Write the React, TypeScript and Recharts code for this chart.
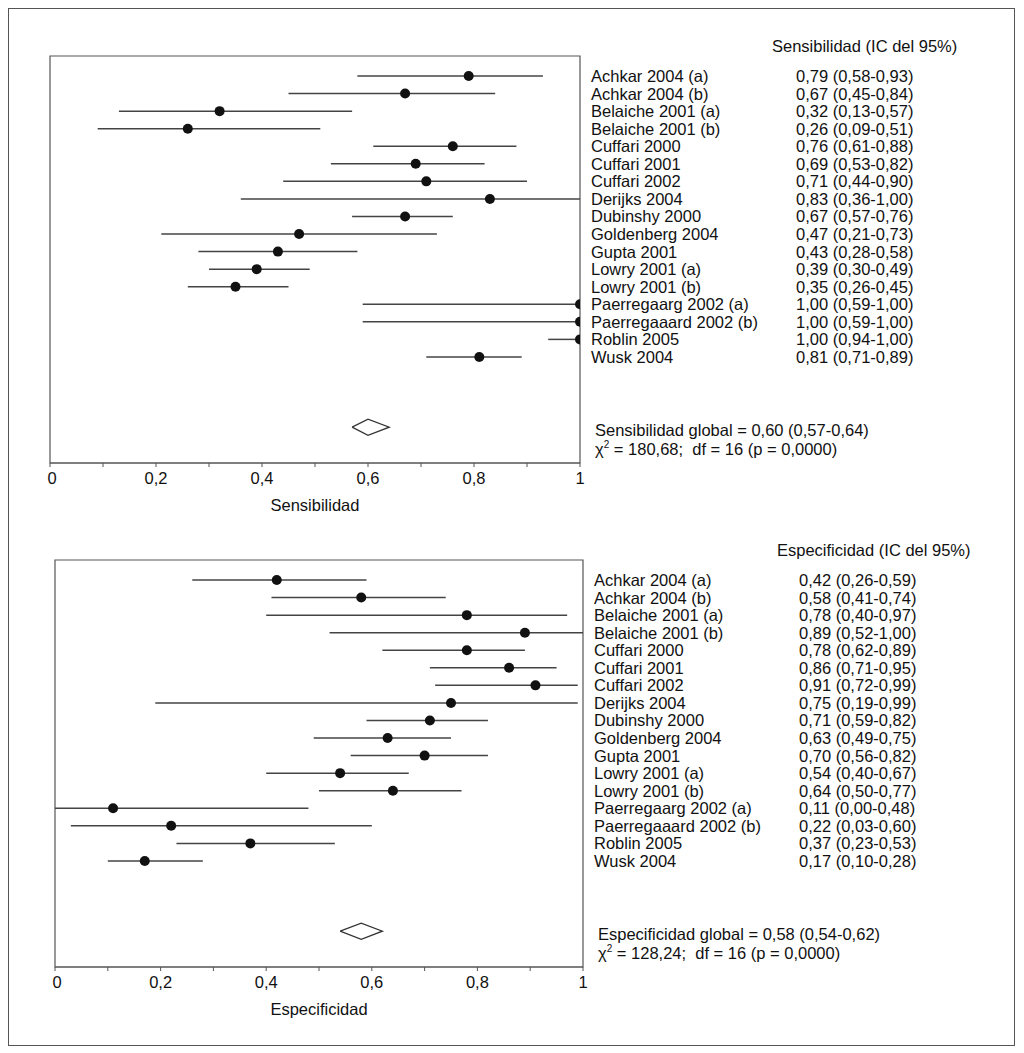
import React from 'react';
import { ScatterChart, Scatter, XAxis, YAxis, ErrorBar, ReferenceArea } from 'recharts';

const STUDIES = [
  'Achkar 2004 (a)',
  'Achkar 2004 (b)',
  'Belaiche 2001 (a)',
  'Belaiche 2001 (b)',
  'Cuffari 2000',
  'Cuffari 2001',
  'Cuffari 2002',
  'Derijks 2004',
  'Dubinshy 2000',
  'Goldenberg 2004',
  'Gupta 2001',
  'Lowry 2001 (a)',
  'Lowry 2001 (b)',
  'Paerregaarg 2002 (a)',
  'Paerregaaard 2002 (b)',
  'Roblin 2005',
  'Wusk 2004',
];

const SENS_EST = [0.79, 0.67, 0.32, 0.26, 0.76, 0.69, 0.71, 0.83, 0.67, 0.47, 0.43, 0.39, 0.35, 1.0, 1.0, 1.0, 0.81];
const SENS_LO = [0.58, 0.45, 0.13, 0.09, 0.61, 0.53, 0.44, 0.36, 0.57, 0.21, 0.28, 0.30, 0.26, 0.59, 0.59, 0.94, 0.71];
const SENS_HI = [0.93, 0.84, 0.57, 0.51, 0.88, 0.82, 0.90, 1.0, 0.76, 0.73, 0.58, 0.49, 0.45, 1.0, 1.0, 1.0, 0.89];

const SPEC_EST = [0.42, 0.58, 0.78, 0.89, 0.78, 0.86, 0.91, 0.75, 0.71, 0.63, 0.70, 0.54, 0.64, 0.11, 0.22, 0.37, 0.17];
const SPEC_LO = [0.26, 0.41, 0.40, 0.52, 0.62, 0.71, 0.72, 0.19, 0.59, 0.49, 0.56, 0.40, 0.50, 0.0, 0.03, 0.23, 0.10];
const SPEC_HI = [0.59, 0.74, 0.97, 1.0, 0.89, 0.95, 0.99, 0.99, 0.82, 0.75, 0.82, 0.67, 0.77, 0.48, 0.60, 0.53, 0.28];

// pooled estimate, lower, upper
const SENS_POOLED = [0.60, 0.57, 0.64];
const SPEC_POOLED = [0.58, 0.54, 0.62];
const SENS_CHI = 180.68;
const SPEC_CHI = 128.24;
const DF = 16;
const P_TEXT = '0,0000';

const X_TICKS = [0, 0.1, 0.2, 0.3, 0.4, 0.5, 0.6, 0.7, 0.8, 0.9, 1];

const POOLED_ROW = 20;
const Y_DOMAIN = [-1.14, 22.04];
const DIAMOND_HALF = 0.46;

const FONT = '"Liberation Sans", Arial, Helvetica, sans-serif';
const INK = '#111';
const FS = 16.5;

const fmt = (v: number) => v.toFixed(2).replace('.', ',');
const fmtTick = (v: number) => String(v).replace('.', ',');

function AxisTick(props: any) {
  const { x, y, payload } = props;
  const v = payload.value;
  if (Math.round(v * 10) % 2 !== 0) return <g />;
  return (
    <text x={x + (v === 0 ? 2 : 0)} y={y} dy="0.71em" textAnchor="middle" fontFamily={FONT} fontSize={FS} fill={INK}>
      {fmtTick(v)}
    </text>
  );
}

function StudyTick(props: any) {
  const { x, y, payload, rows, summaryTitle, chi } = props;
  const v = payload.value;
  if (v === POOLED_ROW) {
    return (
      <g fontFamily={FONT} fontSize={FS} fill={INK}>
        <text x={x + 15} y={y + 3} dominantBaseline="central">{summaryTitle}</text>
        <text x={x + 15} y={y + 22} dominantBaseline="central" style={{ whiteSpace: 'pre' }}>
          χ<tspan dy={-5} fontSize={10}>2</tspan>
          <tspan dy={5}>{` = ${chi};  df = ${DF} (p = ${P_TEXT})`}</tspan>
        </text>
      </g>
    );
  }
  const r = rows[v];
  if (!r) return <g />;
  return (
    <g fontFamily={FONT} fontSize={FS} fill={INK}>
      <text x={x + 11} y={y} dominantBaseline="central">{r.name}</text>
      <text x={x + 216} y={y} dominantBaseline="central">{r.label}</text>
    </g>
  );
}

function ForestPlot(props: any) {
  const { est, lo, hi, pooled, chi, axisTitle, summaryWord, top, height, margin } = props;

  const rows = STUDIES.map((name, i) => ({
    name,
    x: est[i],
    y: i,
    err: [est[i] - lo[i], hi[i] - est[i]],
    label: `${fmt(est[i])} (${fmt(lo[i])}-${fmt(hi[i])})`,
  }));

  const diamond = [
    { x: pooled[1], y: POOLED_ROW },
    { x: pooled[0], y: POOLED_ROW - DIAMOND_HALF },
    { x: pooled[2], y: POOLED_ROW },
    { x: pooled[0], y: POOLED_ROW + DIAMOND_HALF },
    { x: pooled[1], y: POOLED_ROW },
  ];

  const summaryTitle = `${summaryWord} global = ${fmt(pooled[0])} (${fmt(pooled[1])}-${fmt(pooled[2])})`;
  const rowTicks = [...rows.map((r) => r.y), POOLED_ROW];

  return (
    <div style={{ position: 'absolute', left: -1, top }}>
      <ScatterChart width={1007} height={height} margin={margin}>
        <XAxis
          dataKey="x"
          type="number"
          domain={[0, 1]}
          allowDataOverflow
          ticks={X_TICKS}
          interval={0}
          tickSize={4}
          tickMargin={5}
          height={50}
          stroke="#555"
          tick={<AxisTick />}
          label={{ value: axisTitle, position: 'insideBottom', offset: 2, fill: INK, fontSize: FS, fontFamily: FONT }}
        />
        <YAxis
          dataKey="y"
          type="number"
          orientation="right"
          domain={Y_DOMAIN}
          allowDataOverflow
          reversed
          ticks={rowTicks}
          interval={0}
          axisLine={false}
          tickLine={false}
          tickSize={0}
          tickMargin={0}
          width={430}
          tick={(p: any) => <StudyTick {...p} rows={rows} summaryTitle={summaryTitle} chi={fmt(chi)} />}
        />
        <ReferenceArea
          x1={0}
          x2={1}
          y1={Y_DOMAIN[0]}
          y2={Y_DOMAIN[1]}
          fill="none"
          fillOpacity={0}
          stroke="#555"
          strokeWidth={1.2}
          ifOverflow="visible"
        />
        <Scatter
          data={rows}
          isAnimationActive={false}
          shape={(p: any) => <circle cx={p.cx} cy={p.cy} r={5} fill="#111" />}
        >
          <ErrorBar dataKey="err" direction="x" width={0} stroke="#444" strokeWidth={1.5} />
        </Scatter>
        <Scatter
          data={diamond}
          isAnimationActive={false}
          line={{ stroke: '#333', strokeWidth: 1.3 }}
          lineType="joint"
          shape={() => <g />}
        />
      </ScatterChart>
    </div>
  );
}

export default function App() {
  const headerStyle: React.CSSProperties = {
    position: 'absolute',
    fontSize: FS,
    lineHeight: '19px',
    color: INK,
    whiteSpace: 'nowrap',
  };
  return (
    <div
      style={{
        position: 'relative',
        width: 1007,
        height: 1038,
        border: '1px solid #555',
        boxSizing: 'border-box',
        fontFamily: FONT,
        background: '#fff',
      }}
    >
      <div style={{ ...headerStyle, left: 763, top: 28 }}>Sensibilidad (IC del 95%)</div>
      <div style={{ ...headerStyle, left: 768, top: 532 }}>Especificidad (IC del 95%)</div>
      <ForestPlot
        est={SENS_EST}
        lo={SENS_LO}
        hi={SENS_HI}
        pooled={SENS_POOLED}
        chi={SENS_CHI}
        axisTitle="Sensibilidad"
        summaryWord="Sensibilidad"
        top={-1}
        height={520}
        margin={{ top: 48, right: 5, bottom: 15, left: 42 }}
      />
      <ForestPlot
        est={SPEC_EST}
        lo={SPEC_LO}
        hi={SPEC_HI}
        pooled={SPEC_POOLED}
        chi={SPEC_CHI}
        axisTitle="Especificidad"
        summaryWord="Especificidad"
        top={519}
        height={510}
        margin={{ top: 32, right: 2, bottom: 21, left: 47 }}
      />
    </div>
  );
}
